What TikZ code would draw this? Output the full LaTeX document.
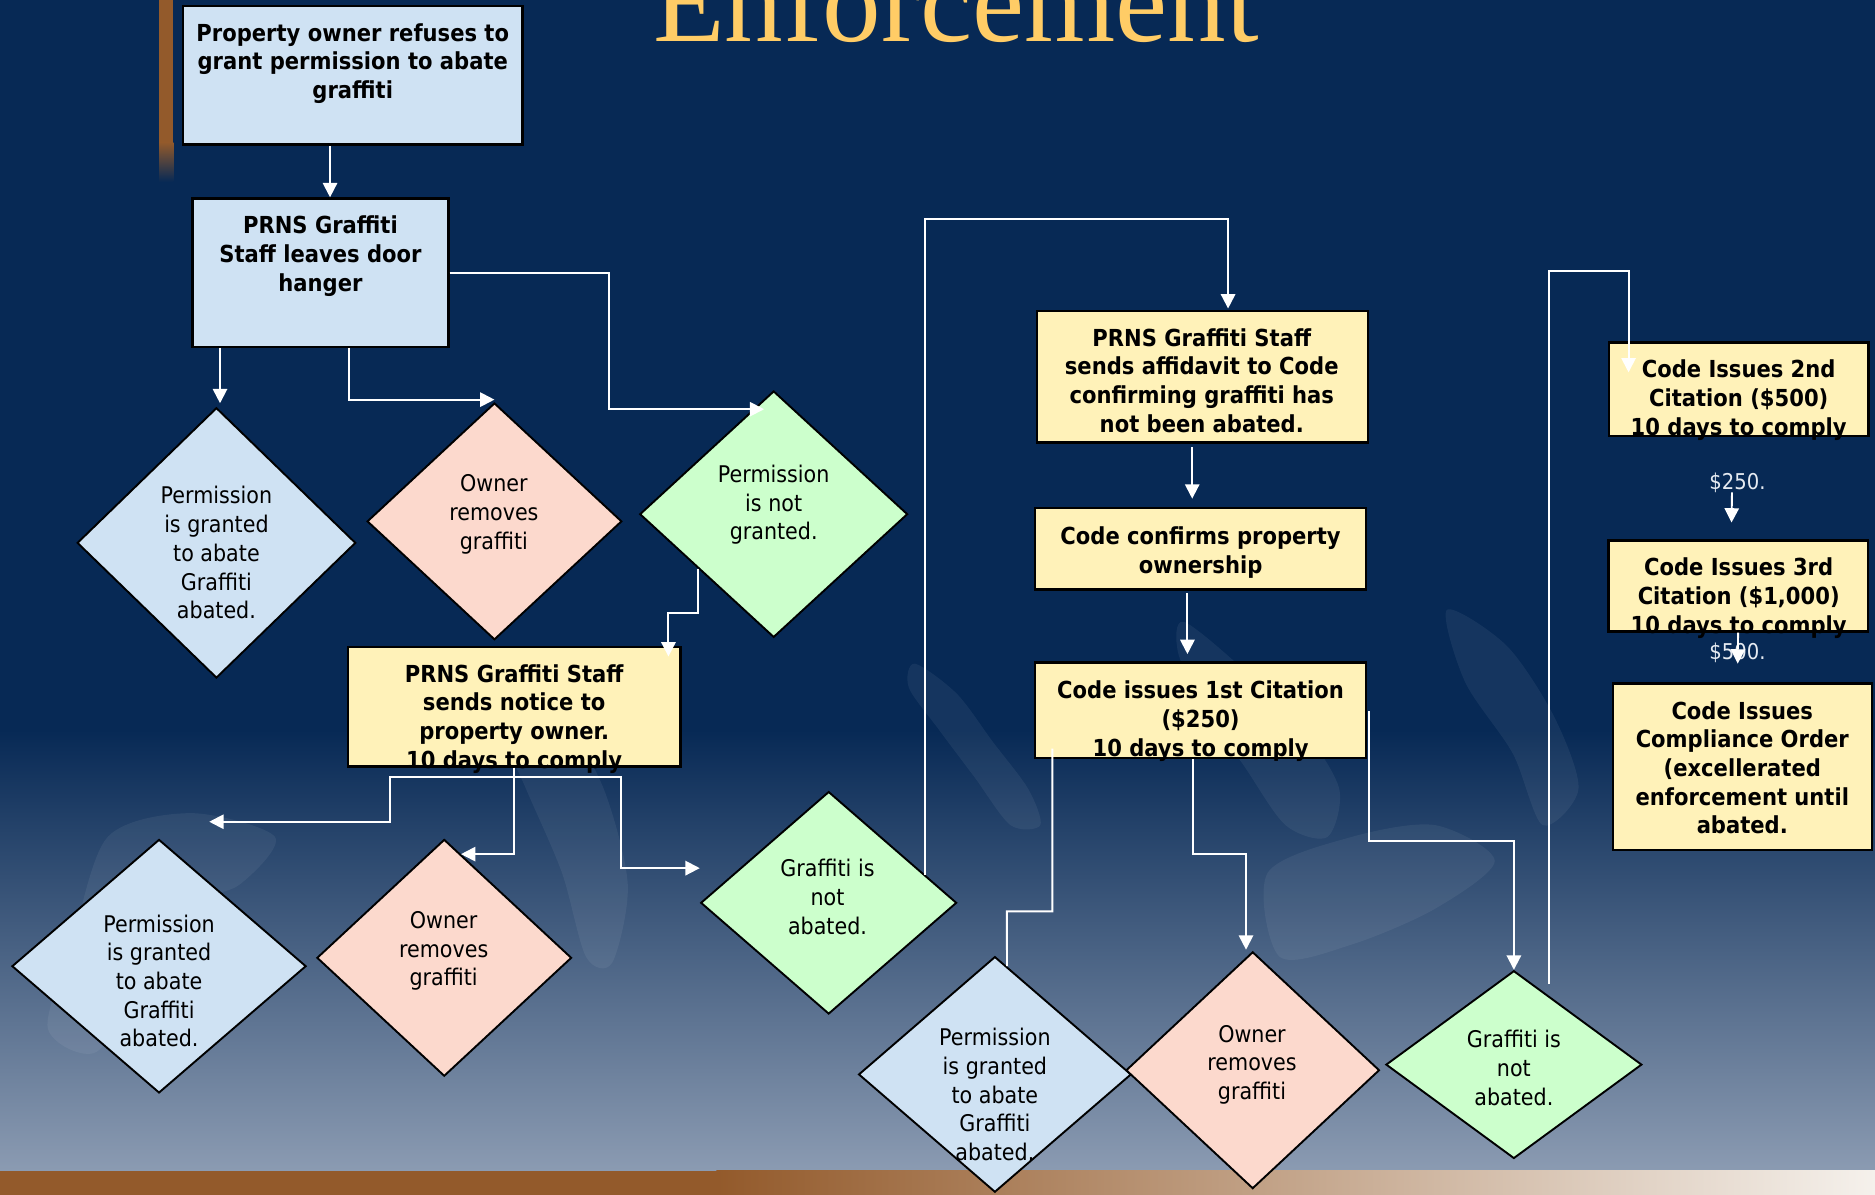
\documentclass[tikz,border=0pt]{standalone}
\usepackage{fontspec}
\usetikzlibrary{shapes.geometric,arrows.meta,calc}
\newfontfamily\tah[FakeStretch=0.9]{DejaVu Sans}
\newfontfamily\ttl{Liberation Serif}
\definecolor{navy}{HTML}{072955}
\definecolor{bgbot}{HTML}{8B9BB2}
\definecolor{bluef}{HTML}{CFE2F3}
\definecolor{pinkf}{HTML}{FCD9CD}
\definecolor{greenf}{HTML}{CCFFCC}
\definecolor{yellowf}{HTML}{FFF2B9}
\definecolor{gold}{HTML}{FFCC66}
\definecolor{brownbar}{HTML}{935A2B}
\definecolor{lightbar}{HTML}{F5F1EC}
\definecolor{lbltxt}{HTML}{E6EBF2}
\begin{document}
\begin{tikzpicture}[x=0.5pt,y=-0.5pt,
  box/.style={draw=black,line width=1pt,rectangle,inner sep=0pt},
  dia/.style={draw=black,line width=0.8pt,diamond,inner sep=0pt},
  btxt/.style={anchor=north,inner sep=0pt,align=center,text=black,font=\tah\bfseries\fontsize{9.8}{12}\selectfont},
  rtxt/.style={anchor=north,inner sep=0pt,align=center,text=black,font=\tah\fontsize{9.6}{12}\selectfont},
  money/.style={inner sep=0pt,text=lbltxt,font=\tah\fontsize{9.1}{11}\selectfont},
  conn/.style={draw=white,line width=0.8pt},
  arr/.style={conn,-{Triangle[width=6pt,length=6pt]}},
  swirl/.style={fill=white,fill opacity=0.06},
]
\useasboundingbox (0,0) rectangle (1568,999);
% background
\fill[navy] (0,0) rectangle (1568,611);
\shade[top color=navy,bottom color=bgbot] (0,610) rectangle (1568,979);
% faint background swirls
\fill[swirl] plot[smooth cycle] coordinates {(425,565) (470,600) (505,660) (525,740) (512,805) (490,800) (470,730) (440,660) (415,600)};
\fill[swirl] plot[smooth cycle] coordinates {(765,555) (800,580) (830,620) (860,660) (870,690) (845,690) (815,650) (785,610) (760,575)};
\fill[swirl] plot[smooth cycle] coordinates {(990,520) (1040,560) (1090,610) (1120,660) (1110,700) (1075,690) (1040,640) (1005,590) (985,545)};
\fill[swirl] plot[smooth cycle] coordinates {(1060,730) (1130,700) (1200,690) (1250,720) (1200,760) (1130,790) (1070,800)};
\fill[swirl] plot[smooth cycle] coordinates {(1210,510) (1260,540) (1300,600) (1320,660) (1290,690) (1265,630) (1225,570)};
\fill[swirl] plot[smooth cycle] coordinates {(90,700) (160,680) (230,700) (200,740) (150,760) (120,820) (80,880) (40,860) (60,790)};
% bars
\fill[brownbar] (0,979) rectangle (600,999);
\shade[left color=brownbar,right color=lightbar] (599,979) rectangle (1568,999);
\fill[brownbar] (133,0) rectangle (145,120);
\shade[top color=brownbar,bottom color=navy] (133,119) rectangle (145,152);
% title
\node[anchor=base west,inner sep=0pt,text=gold,font=\ttl\fontsize{49}{49}\selectfont] (title) at (546,35) {Enforcement};

% boxes
\node[box,fill=bluef,minimum width=142pt,minimum height=58pt] (A) at (295,63) {};
\node[box,fill=bluef,minimum width=107pt,minimum height=62pt] (B) at (268,228) {};
\node[box,fill=yellowf,minimum width=139pt,minimum height=50pt] (C) at (430,591) {};
\node[box,fill=yellowf,minimum width=138.5pt,minimum height=55pt] (E) at (1005.5,315) {};
\node[box,fill=yellowf,minimum width=138.5pt,minimum height=34pt] (F) at (1004,459) {};
\node[box,fill=yellowf,minimum width=138.5pt,minimum height=40pt] (G) at (1004,594) {};
\node[box,fill=yellowf,minimum width=108.5pt,minimum height=39.2pt] (H) at (1453.9,325.6) {};
\node[box,fill=yellowf,minimum width=108.5pt,minimum height=38pt] (I) at (1453.5,490) {};
\node[box,fill=yellowf,minimum width=108.2pt,minimum height=69.75pt] (J) at (1457.2,641.2) {};

% diamonds
\node[dia,fill=bluef,minimum width=116.5pt,minimum height=113pt] (D1) at (181,454) {};
\node[dia,fill=pinkf,minimum width=106.5pt,minimum height=99pt] (D2) at (413.5,436) {};
\node[dia,fill=greenf,minimum width=112pt,minimum height=103pt] (D3) at (647,430) {};
\node[dia,fill=bluef,minimum width=123pt,minimum height=106pt] (D4) at (133,808) {};
\node[dia,fill=pinkf,minimum width=106.5pt,minimum height=99pt] (D5) at (371.5,801) {};
\node[dia,fill=greenf,minimum width=107pt,minimum height=93pt] (D6) at (693,755) {};
\node[dia,fill=bluef,minimum width=114pt,minimum height=98.5pt] (D7) at (832,898.5) {};
\node[dia,fill=pinkf,minimum width=106pt,minimum height=99pt] (D8) at (1047.6,895) {};
\node[dia,fill=greenf,minimum width=107pt,minimum height=78.5pt] (D9) at (1266,890.3) {};

% box texts
\node[btxt] (tA) at (295,17.2) {\strut Property owner refuses to\\grant permission to abate\\graffiti};
\node[btxt] (tB) at (268,178.2) {\strut PRNS Graffiti\\Staff leaves door\\hanger};
\node[btxt] (tC) at (430,553.2) {\strut PRNS Graffiti Staff\\sends notice to\\property owner.\\10 days to comply};
\node[btxt] (tE) at (1005,272.2) {\strut PRNS Graffiti Staff\\sends affidavit to Code\\confirming graffiti has\\not been abated.};
\node[btxt] (tF) at (1004,438.2) {\strut Code confirms property\\ownership};
\node[btxt] (tG) at (1004,567.2) {\strut Code issues 1st Citation\\(\$250)\\10 days to comply};
\node[btxt] (tH) at (1454,298.7) {\strut Code Issues 2nd\\Citation (\$500)\\10 days to comply};
\node[btxt] (tI) at (1454,464.2) {\strut Code Issues 3rd\\Citation (\$1,000)\\10 days to comply};
\node[btxt] (tJ) at (1457,584.2) {\strut Code Issues\\Compliance Order\\(excellerated\\enforcement until\\abated.};

% diamond texts
\node[rtxt] (t1) at (181,404.2) {\strut Permission\\is granted\\to abate\\Graffiti\\abated.};
\node[rtxt] (t2) at (413,394.2) {\strut Owner\\removes\\graffiti};
\node[rtxt] (t3) at (647,386.2) {\strut Permission\\is not\\granted.};
\node[rtxt] (t4) at (133,762.2) {\strut Permission\\is granted\\to abate\\Graffiti\\abated.};
\node[rtxt] (t5) at (371,759.2) {\strut Owner\\removes\\graffiti};
\node[rtxt] (t6) at (692,716.2) {\strut Graffiti is\\not\\abated.};
\node[rtxt] (t7) at (832,857.2) {\strut Permission\\is granted\\to abate\\Graffiti\\abated.};
\node[rtxt] (t8) at (1047,854.2) {\strut Owner\\removes\\graffiti};
\node[rtxt] (t9) at (1266,859.2) {\strut Graffiti is\\not\\abated.};

% money labels
\node[money] (l250) at (1453,404) {\$250.};
\node[money] (l500) at (1453,546) {\$500.};

% connectors
\draw[arr] ($(A.south)+(-19,0)$) -- ($(B.north)+(8,0)$);
\draw[arr] ($(B.south)+(-84,0)$) -- ($(D1.north)+(3,-3)$);
\draw[arr] ($(B.south)+(24,0)$) |- ($(D2.north)+(0,-2)$);
\draw[arr] (B.east) -- ++(133,0) |- ($(D3.north)+(-8,16)$);
\draw[arr] ($(D3.west)!0.438!(D3.south)$) -- ++(0,37) -| ($(C.north)+(129,9)$);
\draw[arr] (C.south) |- ($(D5.north)!0.131!(D5.east)$);
\draw[arr] ($(C.south)+(0,8)$) -| ($(D4.north)+(193,-14)$) -- ($(D4.north)+(42,-14)$);
\draw[arr] ($(C.south)+(0,8)$) -| ($(D6.west)+(-66,-29)$) -- ($(D6.west)+(0,-29)$);
\draw[arr] ($(D6.north)!0.75!(D6.east)$) |- ($(E.north)+(21.5,-76)$) -- ($(E.north)+(21.5,-1)$);
\draw[arr] ($(E.south)+(-8.5,3)$) -- ($(F.north)+(-7,-7)$);
\draw[arr] ($(F.south)+(-11,2)$) -- ($(G.north)+(-11,-6)$);
\draw[conn] ($(G.south)+(-124,-9)$) |- ($(D7.north)+(10,-37)$) -- ($(D7.north)!0.088!(D7.east)$);
\draw[arr] ($(G.south)+(-6,0)$) |- ($(D8.north)+(-5.6,-81)$) -- ($(D8.north)+(-5.6,-1)$);
\draw[arr] ($(G.east)+(1,1)$) |- ($(D9.north)+(0,-108)$) -- (D9.north);
\draw[arr] ($(D9.north)+(29,12)$) |- ($(H.north)+(-92,-59)$) -- ($(H.north)+(-92,26)$);
\draw[arr] ($(H.south)+(-5.5,46)$) -- ($(I.north)+(-5.5,-14)$);
\draw[arr] (I.south) -- ($(J.north)+(-4,-15.5)$);
\end{tikzpicture}
\end{document}
